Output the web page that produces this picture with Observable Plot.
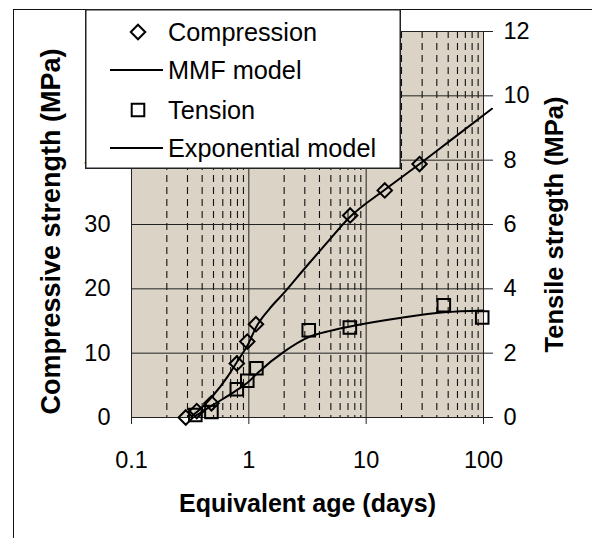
<!DOCTYPE html>
<html><head><meta charset="utf-8">
<script src="https://cdn.jsdelivr.net/npm/d3@7"></script>
<script src="https://cdn.jsdelivr.net/npm/@observablehq/plot@0.6"></script>
<style>
body{margin:0;background:#fff;}
#wrap{position:relative;width:592px;height:538px;overflow:hidden;font-family:"Liberation Sans",Arial,sans-serif;}
#chart{position:absolute;left:0;top:0;}
#outer{position:absolute;left:13px;top:9px;width:600px;height:600px;border-left:1.5px solid #111;border-top:1.5px solid #111;box-sizing:border-box;pointer-events:none;}
#legend{position:absolute;left:85px;top:9px;}
</style></head><body>
<div id="wrap"><div id="chart"></div><div id="outer"></div><div id="legend"></div></div>
<script>
// ---- data ----
const compAge = [0.29, 0.36, 0.48, 0.79, 0.97, 1.15, 7.3, 14.4, 28.5];
const compStrength = [0, 1.0, 2.2, 8.4, 11.8, 14.5, 31.4, 35.3, 39.4];
const tensAge = [0.35, 0.48, 0.79, 0.97, 1.16, 3.24, 7.26, 45.9, 97.5];
const tensStrength = [0.08, 0.17, 0.88, 1.14, 1.53, 2.71, 2.8, 3.49, 3.11];
const mmfAge = [0.33, 0.4, 0.5, 0.65, 0.79, 1, 1.15, 1.5, 2, 3, 4.5, 7.3, 14.4, 28.5, 58, 118];
const mmfStrength = [0.3, 1.6, 3.5, 6.2, 8.6, 11.6, 14.0, 16.9, 19.4, 23.2, 26.9, 31.2, 35.4, 39.4, 43.7, 48];
const expAge = [0.35, 0.5, 0.79, 1, 1.2, 2, 3.24, 5, 7.3, 20, 46, 100];
const expStrength = [0.05, 0.4, 0.85, 1.12, 1.4, 2.05, 2.5, 2.7, 2.83, 3.1, 3.27, 3.33];
const xTicks = [0.1, 1, 10, 100];
const xMinor = [0.2,0.3,0.4,0.5,0.6,0.7,0.8,0.9,2,3,4,5,6,7,8,9,20,30,40,50,60,70,80,90];
const leftTicks = [0, 10, 20, 30, 40, 50, 60];
const rightTicks = [0, 2, 4, 6, 8, 10, 12];
const legendLabels = ["Compression", "MMF model", "Tension", "Exponential model"];
const xTitle = "Equivalent age (days)";
const yLeftTitle = "Compressive strength (MPa)";
const yRightTitle = "Tensile stregth (MPa)";

// ---- build ----
const ratio = leftTicks[leftTicks.length-1] / rightTicks[rightTicks.length-1];
const comp = compAge.map((a,i)=>({age:a, v:compStrength[i]}));
const tens = tensAge.map((a,i)=>({age:a, v:tensStrength[i]*ratio}));
const mmf = mmfAge.map((a,i)=>({age:a, v:mmfStrength[i]}));
const expm = expAge.map((a,i)=>({age:a, v:expStrength[i]*ratio}));
const font = "Liberation Sans, Arial, sans-serif";
const fs = 23.5;

const chart = Plot.plot({
  width: 592, height: 538,
  marginLeft: 131, marginRight: 109, marginTop: 31, marginBottom: 121,
  style: {fontFamily: font, background: "transparent", color: "#000", overflow: "visible"},
  x: {type: "log", domain: [xTicks[0], xTicks[xTicks.length-1]]},
  y: {domain: [leftTicks[0], leftTicks[leftTicks.length-1]]},
  marks: [
    Plot.frame({fill: "#dbd3c5", stroke: "none"}),
    Plot.ruleX(xMinor, {stroke: "#111", strokeWidth: 1.1, strokeDasharray: "7,5"}),
    Plot.ruleX(xTicks, {stroke: "#222", strokeWidth: 1}),
    Plot.ruleY(leftTicks, {stroke: "#222", strokeWidth: 1}),
    Plot.axisX({ticks: xTicks, tickFormat: d => String(d), tickSize: 7, tickPadding: 27, fontSize: fs, label: null, stroke: "#222"}),
    Plot.axisY({anchor: "left", ticks: leftTicks, tickSize: 0, tickPadding: 21, fontSize: fs, label: null}),
    Plot.axisY({anchor: "right", ticks: rightTicks.map(d => d*ratio), tickFormat: d => String(d/ratio), tickSize: 9, tickPadding: 11, fontSize: fs, label: null, stroke: "#222"}),
    Plot.line(mmf, {x: "age", y: "v", curve: "monotone-x", stroke: "#000", strokeWidth: 2}),
    Plot.line(expm, {x: "age", y: "v", curve: "monotone-x", stroke: "#000", strokeWidth: 2}),
    Plot.dot(comp, {x: "age", y: "v", symbol: "diamond2", r: 6.5, stroke: "#000", strokeWidth: 2, fill: "none"}),
    Plot.dot(tens, {x: "age", y: "v", symbol: "square2", r: 8, stroke: "#000", strokeWidth: 2, fill: "none"}),
    Plot.text([xTitle], {frameAnchor: "bottom", dy: 94, fontSize: 25, fontWeight: "bold", text: d => d}),
    Plot.text([yLeftTitle], {frameAnchor: "left", textAnchor: "middle", dx: -80, dy: 7, rotate: -90, fontSize: 27, fontWeight: "bold", text: d => d}),
    Plot.text([yRightTitle], {frameAnchor: "right", textAnchor: "middle", dx: 71, rotate: -90, fontSize: 25.5, fontWeight: "bold", text: d => d})
  ]
});
document.getElementById("chart").appendChild(chart);

// ---- legend ----
const lw = 316, lh = 160;
const lg = d3.select("#legend").append("svg").attr("width", lw).attr("height", lh)
  .style("font-family", font).style("display", "block");
lg.append("rect").attr("x", 0.75).attr("y", 0.75).attr("width", lw-1.5).attr("height", lh-1.5)
  .attr("fill", "#fff").attr("stroke", "#222").attr("stroke-width", 1.5);
const rowY = [23, 61, 101, 139];
const kinds = ["diamond", "line", "square", "line"];
kinds.forEach((k, i) => {
  const y = rowY[i];
  if (k === "line") {
    lg.append("line").attr("x1", 25).attr("x2", 78).attr("y1", y).attr("y2", y).attr("stroke", "#000").attr("stroke-width", 2);
  } else {
    const r = k === "diamond" ? 6.5 : 8;
    const sym = k === "diamond" ? d3.symbolDiamond2 : d3.symbolSquare2;
    lg.append("path").attr("d", d3.symbol(sym, r*r*Math.PI)()).attr("transform", `translate(53,${y})`)
      .attr("fill", "none").attr("stroke", "#000").attr("stroke-width", 2);
  }
  lg.append("text").attr("x", 83).attr("y", y).attr("dy", "0.35em").attr("font-size", 25.3).text(legendLabels[i]);
});
</script>
</body></html>
